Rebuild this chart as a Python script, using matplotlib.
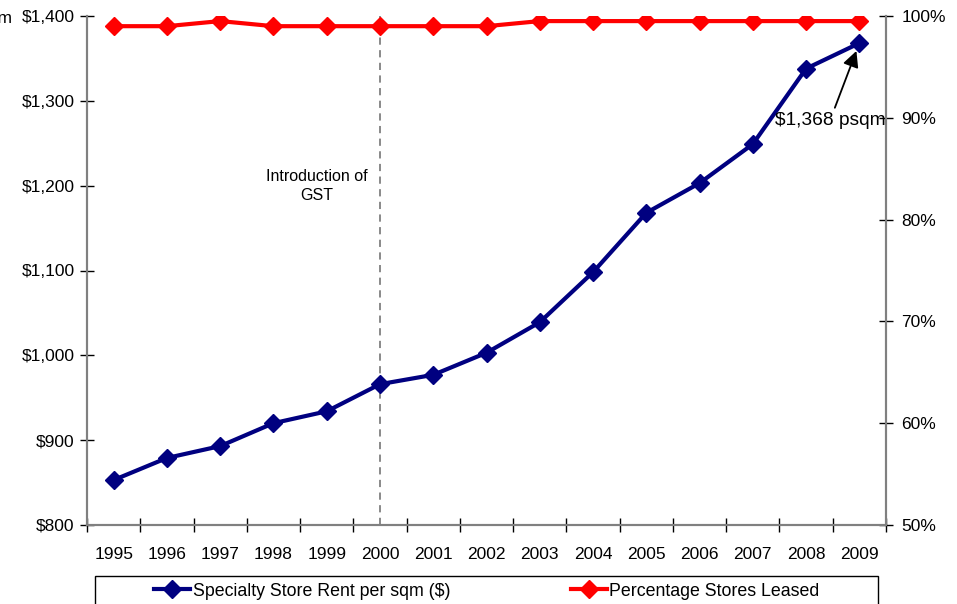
import matplotlib
matplotlib.use("Agg")
import matplotlib.pyplot as plt
from matplotlib.patches import Rectangle

plt.rcParams['font.family'] = ['Liberation Sans', 'DejaVu Sans']

years = ["1995", "1996", "1997", "1998", "1999", "2000", "2001", "2002",
         "2003", "2004", "2005", "2006", "2007", "2008", "2009"]
rent = [853, 879, 893, 920, 934, 966, 977, 1003, 1039, 1098, 1168, 1203,
        1249, 1338, 1368]
leased = [99.0, 99.0, 99.5, 99.0, 99.0, 99.0, 99.0, 99.0, 99.5, 99.5,
          99.5, 99.5, 99.5, 99.5, 99.5]
rent_ticks = [800, 900, 1000, 1100, 1200, 1300, 1400]
pct_ticks = [50, 60, 70, 80, 90, 100]

W, H = 957, 604
fig = plt.figure(figsize=(W / 100, H / 100), dpi=100)
ax = fig.add_axes([87 / W, 1 - 525 / H, (886 - 87) / W, (525 - 16) / H])
ax2 = ax.twinx()

x = list(range(len(years)))
grey = "#808080"

ax.plot(x, rent, color="#000080", lw=3, marker="D", ms=9,
        label="Specialty Store Rent per sqm ($)", zorder=3)
ax2.plot(x, leased, color="#ff0000", lw=3, marker="D", ms=9,
         label="Percentage Stores Leased", zorder=3)

ax.set_xlim(-0.5, len(years) - 0.5)
ax.set_ylim(800, 1400)
ax2.set_ylim(50, 100)

ax.set_yticks(rent_ticks)
ax.set_yticklabels([f"${v:,}" for v in rent_ticks])
ax2.set_yticks(pct_ticks)
ax2.set_yticklabels([f"{v}%" for v in pct_ticks])

ax.set_xticks(x)
ax.set_xticklabels(years)
ax.set_xticks([i - 0.5 for i in range(len(years) + 1)], minor=True)
ax.tick_params(axis="x", which="major", length=0, pad=16, labelsize=12.5)
ax.tick_params(axis="x", which="minor", direction="inout", length=10,
               color="black", width=1)
ax.tick_params(axis="y", direction="inout", length=10, width=1,
               color="black", labelsize=12.5, pad=4)
ax2.tick_params(axis="y", direction="inout", length=10, width=1,
                color="black", labelsize=12.5, pad=6)

for a in (ax, ax2):
    a.spines["top"].set_visible(False)
    for s in ("left", "right", "bottom"):
        a.spines[s].set_color(grey)
        a.spines[s].set_linewidth(1.5)

# GST marker
ax.axvline(5, color=grey, ls=(0, (4, 3)), lw=1.3, zorder=1)
ax.text(3.82, 1200, "Introduction of\nGST", ha="center", va="center",
        fontsize=11.5, linespacing=1.35)

# Latest value callout
ax.annotate("$1,368 psqm", xy=(14, rent[-1]), xytext=(13.45, 1277),
            ha="center", va="center", fontsize=13.8,
            arrowprops=dict(arrowstyle="-|>", color="black", lw=1.3,
                            mutation_scale=24, shrinkA=1, shrinkB=6))

# Unit label partly off the left edge
fig.text(12 / W, 1 - 18 / H, "$ psqm", ha="right", va="center", fontsize=12.5)

# Legend
fig.patches.append(Rectangle((95 / W, 1 - 608 / H), (878 - 95) / W, 32 / H,
                             transform=fig.transFigure, fill=False,
                             edgecolor="black", lw=1))
h1, l1 = ax.get_legend_handles_labels()
h2, l2 = ax2.get_legend_handles_labels()
fig.legend(h1 + h2, l1 + l2, loc="center", ncol=2, frameon=False,
           bbox_to_anchor=(487 / W, 1 - 591 / H), fontsize=12.8,
           handlelength=2, handletextpad=0.15, columnspacing=6.8)

fig.savefig("out.png", dpi=100)
